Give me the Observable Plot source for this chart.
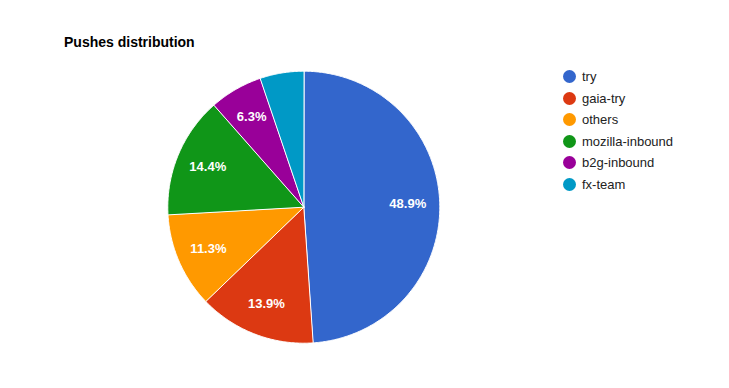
<!DOCTYPE html>
<html>
<head>
<meta charset="utf-8">
<script src="https://cdn.jsdelivr.net/npm/d3@7"></script>
<script src="https://cdn.jsdelivr.net/npm/@observablehq/plot@0.6"></script>
<style>
  html, body { margin: 0; padding: 0; background: #fff; }
  #wrap { position: relative; width: 729px; height: 388px; font-family: "Liberation Sans", Arial, sans-serif; }
  #wrap svg { position: absolute; left: 0; top: 0; }
  #title { position: absolute; left: 64px; top: 35px; font-size: 14px; line-height: 14px; font-weight: bold; color: #000; white-space: nowrap; }
  #legend { position: absolute; left: 563px; top: 66px; }
  .row { display: flex; align-items: center; height: 21.5px; font-size: 13px; color: #222; white-space: nowrap; }
  .sw { width: 13px; height: 13px; border-radius: 50%; margin-right: 6px; flex: none; }
</style>
</head>
<body>
<div id="wrap">
  <div id="title">Pushes distribution</div>
  <div id="legend"></div>
</div>
<script>
const names = ["try", "gaia-try", "others", "mozilla-inbound", "b2g-inbound", "fx-team"];
const shares = [48.9, 13.9, 11.3, 14.4, 6.3, 5.2];
const colors = ["#3366cc", "#dc3912", "#ff9900", "#109618", "#990099", "#0099c6"];

const rows = names.map((name, i) => ({name, share: shares[i]}));
const arcs = d3.pie().sort(null).value(d => d.share)(rows);

// polygon outline for each slice, in unit-circle coordinates (y up)
const pts = [];
for (const a of arcs) {
  const name = a.data.name;
  pts.push({name, x: 0, y: 0});
  const n = Math.max(2, Math.ceil((a.endAngle - a.startAngle) / 0.01));
  for (let k = 0; k <= n; k++) {
    const t = a.startAngle + (a.endAngle - a.startAngle) * k / n;
    pts.push({name, x: Math.sin(t), y: Math.cos(t)});
  }
}
const labelR = 0.765;
const labels = arcs.filter(a => a.data.share >= 6).map(a => {
  const m = (a.startAngle + a.endAngle) / 2;
  return {x: labelR * Math.sin(m), y: labelR * Math.cos(m), text: a.data.share.toFixed(1) + "%"};
});

const W = 729, H = 388, cx = 303.3, cy = 206.7, R = 136;
const chart = Plot.plot({
  width: W, height: H, margin: 0,
  x: {domain: [-cx / R, (W - cx) / R], range: [0, W], axis: null},
  y: {domain: [(cy - H) / R, cy / R], range: [H, 0], axis: null},
  color: {domain: names, range: colors},
  style: {fontFamily: "'Liberation Sans', Arial, sans-serif", background: "transparent"},
  marks: [
    Plot.line(pts, {x: "x", y: "y", z: "name", fill: "name", stroke: "white", strokeWidth: 1, curve: "linear-closed"}),
    Plot.text(labels, {x: "x", y: "y", text: "text", fill: "white", fontSize: 13, fontWeight: "bold"})
  ]
});
document.getElementById("wrap").insertBefore(chart, document.getElementById("title"));

const legend = document.getElementById("legend");
names.forEach((name, i) => {
  const row = document.createElement("div");
  row.className = "row";
  const sw = document.createElement("div");
  sw.className = "sw";
  sw.style.background = colors[i];
  const tx = document.createElement("span");
  tx.textContent = name;
  row.appendChild(sw);
  row.appendChild(tx);
  legend.appendChild(row);
});
</script>
</body>
</html>
